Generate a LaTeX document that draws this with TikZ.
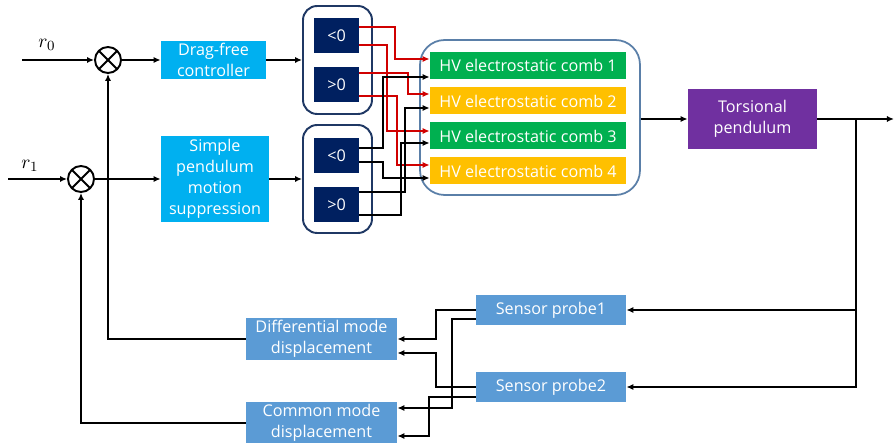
\documentclass[tikz,border=0pt]{standalone}
\usepackage{fontspec}
\setmainfont{Open Sans}
\usetikzlibrary{arrows.meta}

\definecolor{ctrlcyan}{HTML}{00B0F0}
\definecolor{signnavy}{HTML}{002060}
\definecolor{grpedge}{HTML}{1F3864}
\definecolor{hvedge}{HTML}{5A7FA8}
\definecolor{combgreen}{HTML}{00B050}
\definecolor{combyellow}{HTML}{FFC000}
\definecolor{tpurple}{HTML}{7030A0}
\definecolor{probeblue}{HTML}{5B9BD5}
\definecolor{wirered}{HTML}{D00000}

\begin{document}
\begin{tikzpicture}[x=0.02cm,y=-0.02cm,
    wire/.style={line width=1.1pt,-{Latex[length=4pt,width=3.5pt]}},
    redwire/.style={wire,draw=wirered},
    blk/.style={draw=none,text=white,align=center,inner sep=1pt,
      font=\fontsize{9.2}{12}\selectfont},
    sum/.style={circle,draw,line width=1.1pt,minimum size=0.52cm,inner sep=0pt,
      path picture={\draw[line width=1.1pt]
        (path picture bounding box.north west) -- (path picture bounding box.south east)
        (path picture bounding box.north east) -- (path picture bounding box.south west);}},
    grp/.style={draw=grpedge,line width=1.1pt,rounded corners=8pt,fill=white,
      minimum width=1.38cm,minimum height=2.16cm},
    sign/.style={blk,fill=signnavy,minimum width=0.9cm,minimum height=0.7cm},
    comb/.style={blk,minimum width=3.92cm,minimum height=0.54cm}]
    \useasboundingbox (0,0) rectangle (895,445);

    % references and summing points
    \coordinate (in0) at (22,60);
    \coordinate (in1) at (8,179);
    \node[font=\fontsize{11}{13}\selectfont] (r0lab) at (47,45) {$r_0$};
    \node[font=\fontsize{11}{13}\selectfont] (r1lab) at (30,166) {$r_1$};
    \node[sum] (sum0) at (108,60) {};
    \node[sum] (sum1) at (81,179) {};

    % controllers
    \node[blk,fill=ctrlcyan,minimum width=2.1cm,minimum height=0.74cm]
      (dfc) at (213.5,60) {Drag-free\\controller};
    \node[blk,fill=ctrlcyan,minimum width=2.16cm,minimum height=1.72cm]
      (spm) at (215,179) {Simple\\pendulum\\motion\\suppression};

    % sign splitters
    \node[grp] (grp1) at (337.5,60) {};
    \node[grp] (grp2) at (337.5,179) {};
    \node[sign] (lt1) at (336.5,35.5) {<0};
    \node[sign] (gt1) at (336.5,84.5) {>0};
    \node[sign] (lt2) at (336.5,155.5) {<0};
    \node[sign] (gt2) at (336.5,204.5) {>0};

    % actuators
    \node[draw=hvedge,line width=1pt,rounded corners=14pt,fill=white,
      minimum width=4.4cm,minimum height=3.1cm] (hv) at (530,117.5) {};
    \node[comb,fill=combgreen]  (comb1) at (528,65.5) {HV electrostatic comb 1};
    \node[comb,fill=combyellow] (comb2) at (528,101)  {HV electrostatic comb 2};
    \node[comb,fill=combgreen]  (comb3) at (528,136)  {HV electrostatic comb 3};
    \node[comb,fill=combyellow] (comb4) at (528,171)  {HV electrostatic comb 4};

    % plant and sensing
    \node[blk,fill=tpurple,minimum width=2.58cm,minimum height=1.22cm]
      (tp) at (752.5,119) {Torsional\\pendulum};
    \node[blk,fill=probeblue,minimum width=3cm,minimum height=0.6cm]
      (sp1) at (551,310) {Sensor probe1};
    \node[blk,fill=probeblue,minimum width=3cm,minimum height=0.6cm]
      (sp2) at (551,387) {Sensor probe2};
    \node[blk,fill=probeblue,minimum width=3.02cm,minimum height=0.84cm]
      (dmd) at (321.5,339) {Differential mode\\displacement};
    \node[blk,fill=probeblue,minimum width=3.02cm,minimum height=0.82cm]
      (cmd) at (321.5,422.5) {Common mode\\displacement};
    \coordinate (out) at (894,119);
    \coordinate (br) at (856,119);

    % forward path
    \draw[wire] (in0) -- (sum0.west);
    \draw[wire] (in1) -- (sum1.west);
    \draw[wire] (sum0.east) -- (dfc.west);
    \draw[wire] (sum1.east) -- (spm.west);
    \draw[wire] (dfc.east) -- (grp1.west);
    \draw[wire] (spm.east) -- (grp2.west);

    \draw[redwire] (lt1.east |- 0,27) -| (395,59) -- (comb1.west |- 0,59);
    \draw[redwire] (lt1.east |- 0,45) -| (387,131) -- (comb3.west |- 0,131);
    \draw[redwire] (gt1.east |- 0,73) -| (408,94) -- (comb2.west |- 0,94);
    \draw[redwire] (gt1.east |- 0,96) -| (397,165) -- (comb4.west |- 0,165);
    \draw[wire] (lt2.east |- 0,148) -| (383,77) -- (comb1.west |- 0,77);
    \draw[wire] (lt2.east |- 0,162) -| (383,178) -- (comb4.west |- 0,178);
    \draw[wire] (gt2.east |- 0,192) -| (405,108) -- (comb2.west |- 0,108);
    \draw[wire] (gt2.east |- 0,215) -| (401,143) -- (comb3.west |- 0,143);

    \draw[wire] (hv.east |- tp.west) -- (tp.west);
    \draw[wire] (tp.east) -- (out);
    \draw[wire] (br) |- (sp1.east);
    \draw[wire] (br) |- (sp2.east);

    % feedback path
    \draw[wire] (sp1.west) -| (436,339) -- (dmd.east);
    \draw[wire] (sp1.west |- 0,319) -| (452,408) -- (cmd.east |- 0,408);
    \draw[wire] (sp2.west) -| (436,353) -- (dmd.east |- 0,353);
    \draw[wire] (sp2.west |- 0,397) -| (429,436) -- (cmd.east |- 0,436);
    \draw[wire] (dmd.west) -| (sum0.south);
    \draw[wire] (cmd.west |- 0,423) -| (sum1.south);
\end{tikzpicture}
\end{document}
